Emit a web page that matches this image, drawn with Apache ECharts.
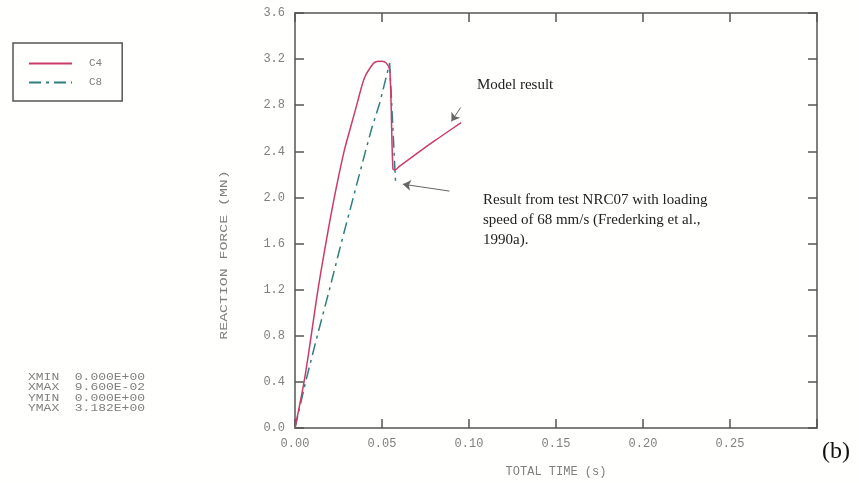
<!DOCTYPE html>
<html>
<head>
<meta charset="utf-8">
<script src="https://cdn.jsdelivr.net/npm/echarts@6/dist/echarts.min.js"></script>
<style>
  html, body { margin: 0; padding: 0; background: #fff; }
  #chart { width: 859px; height: 483px; }
</style>
</head>
<body>
<div id="chart"></div>
<script>
// C4 - model result (solid)
const c4Time  = [0, 0.0052, 0.0093, 0.0132, 0.0177, 0.0226, 0.0282, 0.0318, 0.0358, 0.040, 0.0449, 0.047, 0.050, 0.0525, 0.0545, 0.0563, 0.0575, 0.060, 0.0735, 0.083, 0.0955];
const c4Force = [0, 0.4, 0.8, 1.2, 1.6, 2.0, 2.4, 2.6, 2.82, 3.04, 3.16, 3.18, 3.182, 3.165, 3.10, 2.245, 2.24, 2.27, 2.42, 2.52, 2.65];
// C8 - test NRC07 (dash-dot)
const c8Time  = [0, 0.0061, 0.0128, 0.0198, 0.0265, 0.0335, 0.0405, 0.0439, 0.0487, 0.0525, 0.0544, 0.0578];
const c8Force = [0, 0.4, 0.8, 1.2, 1.6, 2.0, 2.4, 2.59, 2.82, 3.05, 3.166, 2.13];

const statsLines = ['XMIN  0.000E+00', 'XMAX  9.600E-02', 'YMIN  0.000E+00', 'YMAX  3.182E+00'];
const noteModel = 'Model result';
const noteTest = 'Result from test NRC07 with loading\nspeed of 68 mm/s (Frederking et al.,\n1990a).';

const mono = '"Liberation Mono", "DejaVu Sans Mono", monospace';
const serif = '"Liberation Serif", "DejaVu Serif", serif';
const axisCol = '#555';
const labelCol = '#808080';
const pink = '#cc3a6c';
const teal = '#2f7f80';

const chart = echarts.init(document.getElementById('chart'));

// all four sides: line + inward ticks
const frameAxis = () => ({
  axisLine: { show: true, onZero: false, lineStyle: { color: axisCol, width: 1.5 } },
  axisTick: { show: true, inside: true, length: 9, lineStyle: { color: axisCol, width: 1.5 } },
  splitLine: { show: false }
});

chart.setOption({
  animation: false,
  backgroundColor: '#fffffe',
  grid: { left: 295, top: 13, right: 42, bottom: 53 },
  legend: {
    orient: 'vertical',
    left: 13, top: 43,
    padding: [15, 20, 13, 15],
    itemGap: 8,
    itemWidth: 43, itemHeight: 10,
    borderColor: '#555', borderWidth: 1.5,
    itemStyle: { opacity: 0 },
    textStyle: { fontFamily: mono, fontSize: 11, color: labelCol, padding: [0, 0, 0, 12] },
    data: ['C4', 'C8']
  },
  xAxis: [
    Object.assign({
      type: 'value', min: 0, max: 0.30, interval: 0.05, position: 'bottom',
      name: 'TOTAL TIME (s)', nameLocation: 'middle', nameGap: 38,
      nameTextStyle: { fontFamily: mono, fontSize: 12, color: labelCol },
      axisLabel: {
        margin: 10, fontFamily: mono, fontSize: 12, color: labelCol,
        formatter: v => (v > 0.29 ? '' : v.toFixed(2))
      }
    }, frameAxis()),
    Object.assign({
      type: 'value', min: 0, max: 0.30, interval: 0.05, position: 'top',
      axisLabel: { show: false }
    }, frameAxis())
  ],
  yAxis: [
    Object.assign({
      type: 'value', min: 0, max: 3.6, interval: 0.4, position: 'left',
      axisLabel: { margin: 10, fontFamily: mono, fontSize: 12, color: labelCol, formatter: v => v.toFixed(1) }
    }, frameAxis()),
    Object.assign({
      type: 'value', min: 0, max: 3.6, interval: 0.4, position: 'right',
      axisLabel: { show: false }
    }, frameAxis())
  ],
  series: [
    {
      name: 'C4', type: 'line', showSymbol: false, symbol: 'none',
      smooth: 0.3,
      data: c4Time.map((t, i) => [t, c4Force[i]]),
      lineStyle: { color: pink, width: 1.5 },
      itemStyle: { color: pink },
      z: 3,
      markLine: {
        silent: true, animation: false,
        label: { show: false },
        lineStyle: { color: '#666', width: 1, type: 'solid' },
        symbolSize: 8,
        data: [
          [{ coord: [0.0952, 2.78], symbol: 'none' }, { coord: [0.0899, 2.66], symbol: 'arrow' }],
          [{ coord: [0.0888, 2.055], symbol: 'none' }, { coord: [0.062, 2.115], symbol: 'arrow' }]
        ]
      }
    },
    {
      name: 'C8', type: 'line', showSymbol: false, symbol: 'none',
      data: c8Time.map((t, i) => [t, c8Force[i]]),
      lineStyle: { color: teal, width: 1.5, type: [12, 5, 3, 5] },
      itemStyle: { color: teal },
      z: 2
    }
  ],
  graphic: [
    {
      type: 'text', x: 224, y: 255, rotation: Math.PI / 2, scaleX: 1.35,
      style: {
        text: 'REACTION FORCE (MN)', fontFamily: mono, fontSize: 11, fill: labelCol,
        align: 'center', verticalAlign: 'middle'
      }
    },
    {
      type: 'text', left: 477, top: 75,
      style: { text: noteModel, fontFamily: serif, fontSize: 15, fill: '#222', lineHeight: 20 }
    },
    {
      type: 'text', left: 483, top: 190,
      style: { text: noteTest, fontFamily: serif, fontSize: 15, fill: '#222', lineHeight: 20 }
    },
    {
      type: 'text', left: 822, top: 440,
      style: { text: '(b)', fontFamily: serif, fontSize: 24, fill: '#111' }
    }
  ].concat(statsLines.map((s, i) => ({
    type: 'text', x: 28, y: 377 + i * 10 + (i > 1 ? 1 : 0), scaleX: 1.3,
    style: { text: s, fontFamily: mono, fontSize: 10, fill: labelCol, verticalAlign: 'middle' }
  })))
});
</script>
</body>
</html>
